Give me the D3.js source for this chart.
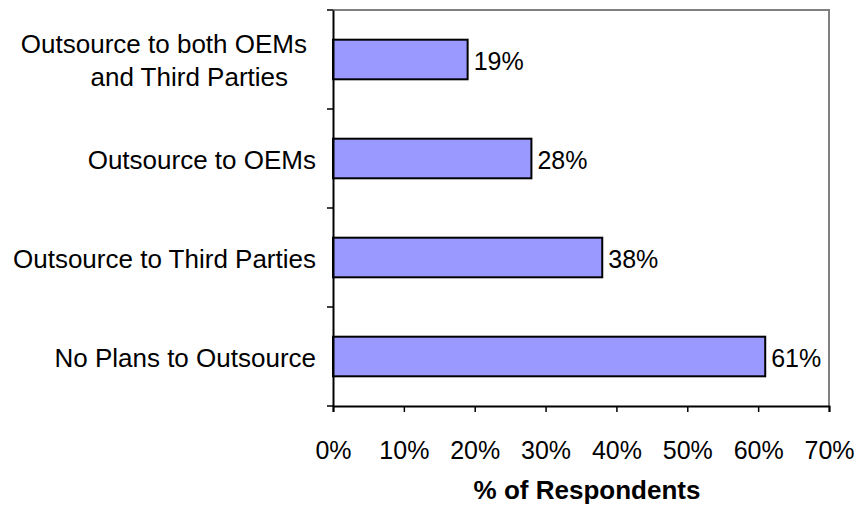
<!DOCTYPE html>
<html><head><meta charset="utf-8">
<script src="https://cdn.jsdelivr.net/npm/d3@7"></script>
<style>body{margin:0;background:#fff}text{font-family:"Liberation Sans",Arial,sans-serif;fill:#000}</style>
</head><body><svg id="c" width="859" height="506"></svg>
<script>
const categories = [["Outsource to both OEMs","and Third Parties"],["Outsource to OEMs"],["Outsource to Third Parties"],["No Plans to Outsource"]];
const values = [19, 28, 38, 61];
const tickValues = [0,10,20,30,40,50,60,70];
const axisTitle = "% of Respondents";

const svg = d3.select("#c");
const m = {l:333, r:829, t:10, b:406};
const x = d3.scaleLinear().domain([0,70]).range([m.l, m.r]);
const y = d3.scaleBand().domain(d3.range(categories.length)).range([m.t, m.b]).paddingInner(0).paddingOuter(0);
const barH = y.bandwidth()/2.5;

// plot border (top/right grey)
svg.append("path").attr("d",`M${m.l},${m.t}H${m.r}V${m.b}`).attr("fill","none").attr("stroke","#808080").attr("stroke-width",2);

// bars
svg.selectAll("rect.bar").data(values).join("rect").attr("class","bar")
  .attr("x", x(0)).attr("y",(d,i)=>y(i)+y.bandwidth()/2-barH/2)
  .attr("width", d=>x(d)-x(0)).attr("height", barH)
  .attr("fill","#9999FF").attr("stroke","#000").attr("stroke-width",2);

// value labels
svg.selectAll("text.val").data(values).join("text").attr("class","val")
  .attr("x", d=>x(d)+6).attr("y",(d,i)=>y(i)+y.bandwidth()/2+10)
  .attr("font-size",25).text(d=>d+"%");

// x axis
const xa = svg.append("g").attr("transform",`translate(0,${m.b})`)
  .call(d3.axisBottom(x).tickValues(tickValues).tickFormat(d=>d+"%").tickSize(6).tickPadding(29));
xa.select(".domain").attr("stroke","#000").attr("stroke-width",2);
xa.selectAll(".tick line").attr("stroke","#000").attr("stroke-width",1.5);
xa.selectAll("text").attr("font-size",25).attr("font-family","Liberation Sans, Arial, sans-serif").attr("fill","#000");

// y axis
const ya = svg.append("g").attr("transform",`translate(${m.l},0)`)
  .call(d3.axisLeft(y).tickValues([]).tickSize(0));
ya.select(".domain").attr("stroke","#000").attr("stroke-width",2);
const bounds = d3.range(categories.length+1).map(i=> i<categories.length ? y(i) : m.b);
ya.selectAll("line.yt").data(bounds).join("line").attr("class","yt")
  .attr("x1",-6).attr("x2",0).attr("y1",d=>d).attr("y2",d=>d).attr("stroke","#000").attr("stroke-width",1.5);

// category labels
categories.forEach((lines,i)=>{
  const cy = y(i)+y.bandwidth()/2;
  const lh = 33;
  const t = svg.append("text").attr("font-size",26).attr("text-anchor","end");
  lines.forEach((ln,j)=>{
    const off = lines.length===1 ? 0 : (j===0 ? -9 : -28);
    t.append("tspan").attr("x", m.l-17+off)
     .attr("y", cy + 10 + (j-(lines.length-1)/2)*lh).text(ln);
  });
});

// axis title
svg.append("text").attr("x",(m.l+m.r)/2 + 6).attr("y",499).attr("text-anchor","middle")
  .attr("font-size",26).attr("font-weight","bold").text(axisTitle);
</script></body></html>
